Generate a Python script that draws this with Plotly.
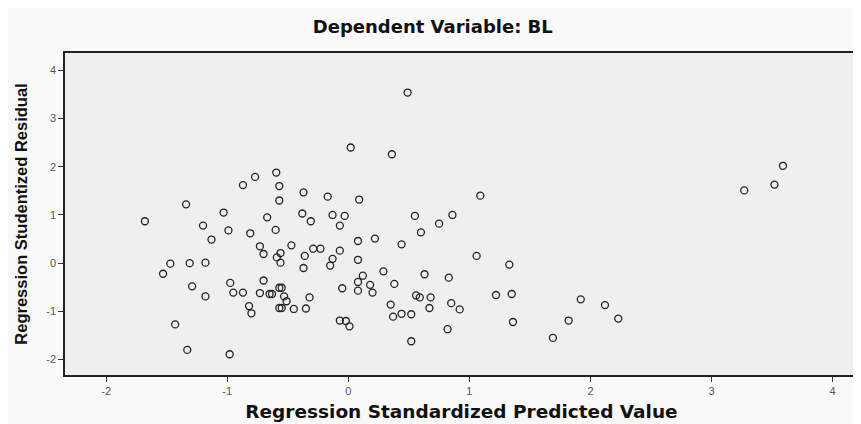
import plotly.graph_objects as go

# Regression Standardized Predicted Value (x) and Studentized Residual (y)
pred = [-1.68, -1.34, -0.87, -0.77, -0.595, -0.57, -0.57, -1.03, -1.20, -0.67,
        -0.99, -0.81, -0.60, -1.13, -1.47, -1.31, -1.18, -1.53, -0.73, -0.70,
        -1.29, -1.18, -0.975, -0.95, -0.87, -0.73, -0.65, -0.70, -0.82, -0.80,
        -0.57, -1.43, -1.33, -0.98, 0.49, 0.02, 0.36, -0.37, -0.17, 0.09,
        1.09, -0.38, -0.31, -0.13, -0.03, -0.07, 0.55, 0.86, 0.75, 0.60,
        0.08, 0.22, 0.44, -0.47, -0.29, -0.23, -0.07, -0.56, -0.59, -0.56,
        -0.36, -0.13, -0.15, 0.08, -0.37, 1.06, 0.29, 0.12, 0.63, 0.83,
        0.08, 0.38, 0.18, 0.08, 0.20, -0.05, -0.55, -0.53, -0.51, -0.32,
        -0.55, -0.45, -0.35, 0.56, 0.59, 0.68, 0.67, 0.85, 0.92, 0.35,
        0.37, 0.44, 0.52, -0.07, -0.02, 0.01, 0.82, 0.52, 1.33, 1.22,
        1.35, 1.36, 1.69, 1.82, 1.92, 2.12, 2.23, 3.27, 3.52, 3.59,
        -0.63, -0.57]
resid = [0.87, 1.22, 1.62, 1.79, 1.88, 1.60, 1.30, 1.05, 0.78, 0.95,
         0.68, 0.62, 0.69, 0.49, -0.01, 0.00, 0.01, -0.22, 0.35, 0.19,
         -0.48, -0.69, -0.41, -0.61, -0.61, -0.62, -0.64, -0.36, -0.89, -1.04,
         -0.93, -1.27, -1.80, -1.89, 3.54, 2.40, 2.26, 1.47, 1.38, 1.32,
         1.40, 1.03, 0.87, 1.00, 0.98, 0.78, 0.98, 1.00, 0.82, 0.64,
         0.46, 0.51, 0.39, 0.37, 0.30, 0.30, 0.26, 0.21, 0.12, 0.01,
         0.15, 0.09, -0.05, 0.07, -0.10, 0.15, -0.17, -0.26, -0.23, -0.30,
         -0.39, -0.43, -0.45, -0.57, -0.61, -0.52, -0.51, -0.69, -0.79, -0.71,
         -0.93, -0.95, -0.94, -0.67, -0.71, -0.71, -0.93, -0.83, -0.96, -0.86,
         -1.11, -1.05, -1.06, -1.19, -1.20, -1.31, -1.37, -1.62, -0.03, -0.66,
         -0.64, -1.22, -1.55, -1.19, -0.75, -0.87, -1.15, 1.51, 1.63, 2.02,
         -0.64, -0.51]

tick_vals = [-2, -1, 0, 1, 2, 3, 4]

fig = go.Figure()
fig.add_trace(go.Scatter(
    x=pred, y=resid, mode="markers",
    marker=dict(symbol="circle-open", size=7, color="#222222",
                line=dict(width=1.3, color="#222222")),
    showlegend=False,
))

axis_common = dict(
    showline=True, linecolor="#222222", linewidth=1.5, mirror=True,
    ticks="outside", ticklen=5, tickcolor="#333333", tickwidth=1,
    showgrid=False, zeroline=False, automargin=False,
    tickfont=dict(family="Liberation Sans, Arial", size=11, color="#555555"),
)

# page body has an 8px margin, so the figure is sized 8px smaller
fig.update_layout(
    width=853, height=416,
    margin=dict(l=57, r=3, t=45, b=49),
    paper_bgcolor="#f9f9f9",
    plot_bgcolor="#efefef",
    title=dict(text="<b>Dependent Variable: BL</b>", x=0.498, xref="container",
               xanchor="center", y=0.954, yref="container", yanchor="middle",
               font=dict(family="DejaVu Sans", size=18, color="#111111")),
    xaxis=dict(range=[-2.34, 4.21], tickvals=tick_vals,
               ticktext=[str(v) for v in tick_vals],
               title=dict(text="<b>Regression Standardized Predicted Value</b>",
                          standoff=9,
                          font=dict(family="DejaVu Sans", size=18.5, color="#111111")),
               **axis_common),
    yaxis=dict(range=[-2.32, 4.36], tickvals=tick_vals,
               ticktext=[str(v) for v in tick_vals],
               title=dict(text="<b>Regression Studentized Residual</b>",
                          standoff=14,
                          font=dict(family="Liberation Sans, Arial", size=16.5, color="#111111")),
               **axis_common),
)

fig.write_html("out.html")
